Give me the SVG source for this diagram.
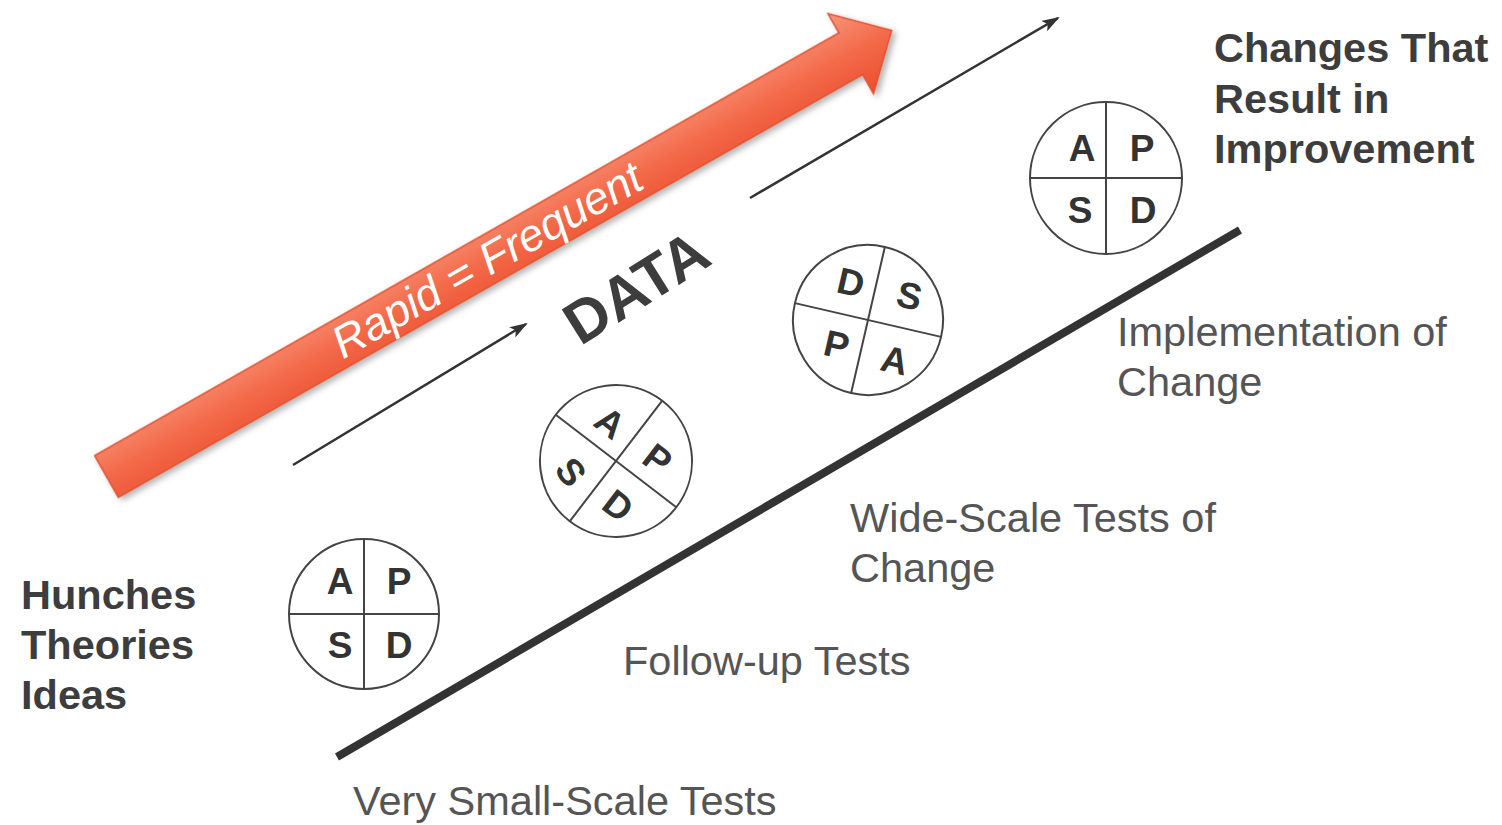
<svg xmlns="http://www.w3.org/2000/svg" width="1502" height="825" viewBox="0 0 1502 825">
  <style>
    .bold { font-family: "Liberation Sans", Arial, sans-serif; font-weight: bold; fill: #3d3d3d; }
    .reg { font-family: "Liberation Sans", Arial, sans-serif; fill: #555555; }
    .ring { fill: #ffffff; stroke: #444444; stroke-width: 2; }
    .div { stroke: #444444; stroke-width: 2; }
    .ltr { font-family: "Liberation Sans", Arial, sans-serif; font-weight: bold; font-size: 37px; fill: #333333; text-anchor: middle; }
    .thin { stroke: #333333; stroke-width: 2.5; fill: none; }
  </style>
  <defs>
    <linearGradient id="orangeFill" x1="0" y1="-46" x2="0" y2="46" gradientUnits="userSpaceOnUse">
      <stop offset="0" stop-color="#f8957a"/>
      <stop offset="0.5" stop-color="#f36a4a"/>
      <stop offset="1" stop-color="#ec4f2c"/>
    </linearGradient>
    <filter id="softShadow" x="-10%" y="-30%" width="120%" height="160%">
      <feDropShadow dx="2" dy="4" stdDeviation="3" flood-color="#000000" flood-opacity="0.3"/>
    </filter>
    <marker id="head" markerUnits="userSpaceOnUse" markerWidth="18" markerHeight="12" refX="16" refY="6" orient="auto">
      <path d="M0,0 L18,6 L0,12 L4,6 Z" fill="#333333"/>
    </marker>
  </defs>

  <rect width="1502" height="825" fill="#ffffff"/>

  <!-- big orange "Rapid = Frequent" arrow -->
  <g id="rapid-arrow" transform="translate(106.5,476.5) rotate(-29.6)">
    <path d="M0,-24 L856,-24 L856,-46 L903,0 L856,46 L856,24 L0,24 Z" fill="url(#orangeFill)" stroke="#e2502f" stroke-width="1.5" filter="url(#softShadow)"/>
    <text x="438" y="15" font-family="Liberation Sans, Arial, sans-serif" font-style="italic" font-size="45" fill="#ffffff" text-anchor="middle">Rapid = Frequent</text>
  </g>

  <!-- DATA label -->
  <g id="data-label" transform="translate(636,287) rotate(-32)">
    <text x="0" y="21" class="bold" font-size="60" fill="#333333" text-anchor="middle">DATA</text>
  </g>

  <!-- connectors: data flow arrows and the progression line -->
  <g id="connectors">
    <line class="thin" x1="293" y1="465" x2="526" y2="324" marker-end="url(#head)"/>
    <line class="thin" x1="750" y1="198" x2="1058" y2="18" marker-end="url(#head)"/>
    <line x1="337" y1="757" x2="1240" y2="230" stroke="#333333" stroke-width="8"/>
  </g>

  <!-- PDSA cycle 1 -->
  <g id="pdsa-1" transform="translate(364,614)">
    <circle class="ring" r="75"/>
    <line class="div" x1="-75" y1="0" x2="75" y2="0"/>
    <line class="div" x1="0" y1="-75" x2="0" y2="75"/>
    <text class="ltr" x="-24" y="-20">A</text>
    <text class="ltr" x="35" y="-20">P</text>
    <text class="ltr" x="-24" y="44">S</text>
    <text class="ltr" x="35" y="44">D</text>
  </g>

  <!-- PDSA cycle 2 (tilted) -->
  <g id="pdsa-2" transform="translate(616,461) rotate(37.5)">
    <circle class="ring" r="76"/>
    <line class="div" x1="-76" y1="0" x2="76" y2="0"/>
    <line class="div" x1="0" y1="-76" x2="0" y2="76"/>
    <text class="ltr" x="-28" y="-14">A</text>
    <text class="ltr" x="32" y="-14">P</text>
    <text class="ltr" x="-29" y="49" transform="rotate(15,-29,36)">S</text>
    <text class="ltr" x="29" y="47">D</text>
  </g>

  <!-- PDSA cycle 3 (tilted) -->
  <g id="pdsa-3" transform="translate(868,320) rotate(13)">
    <circle class="ring" r="75"/>
    <line class="div" x1="-75" y1="0" x2="75" y2="0"/>
    <line class="div" x1="0" y1="-75" x2="0" y2="75"/>
    <text class="ltr" x="-25" y="-20">D</text>
    <text class="ltr" x="35" y="-20">S</text>
    <text class="ltr" x="-25" y="44">P</text>
    <text class="ltr" x="35" y="46">A</text>
  </g>

  <!-- PDSA cycle 4 -->
  <g id="pdsa-4" transform="translate(1106,178)">
    <circle class="ring" r="76"/>
    <line class="div" x1="-76" y1="0" x2="76" y2="0"/>
    <line class="div" x1="0" y1="-76" x2="0" y2="76"/>
    <text class="ltr" x="-24" y="-17">A</text>
    <text class="ltr" x="36" y="-17">P</text>
    <text class="ltr" x="-26" y="45">S</text>
    <text class="ltr" x="37" y="45">D</text>
  </g>

  <!-- start and end labels -->
  <g id="label-start">
    <text class="bold" font-size="41.5" x="21" y="609">Hunches</text>
    <text class="bold" font-size="41.5" x="21" y="659">Theories</text>
    <text class="bold" font-size="41.5" x="21" y="709">Ideas</text>
  </g>
  <g id="label-end">
    <text class="bold" font-size="41.5" x="1214" y="62">Changes That</text>
    <text class="bold" font-size="41.5" x="1214" y="113">Result in</text>
    <text class="bold" font-size="41.5" x="1214" y="163">Improvement</text>
  </g>

  <!-- stage labels -->
  <g id="stage-1">
    <text class="reg" font-size="41.5" x="353" y="815">Very Small-Scale Tests</text>
  </g>
  <g id="stage-2">
    <text class="reg" font-size="41.5" x="623" y="675">Follow-up Tests</text>
  </g>
  <g id="stage-3">
    <text class="reg" font-size="41.5" x="850" y="532">Wide-Scale Tests of</text>
    <text class="reg" font-size="41.5" x="850" y="582">Change</text>
  </g>
  <g id="stage-4">
    <text class="reg" font-size="41.5" x="1117" y="346">Implementation of</text>
    <text class="reg" font-size="41.5" x="1117" y="396">Change</text>
  </g>
</svg>
